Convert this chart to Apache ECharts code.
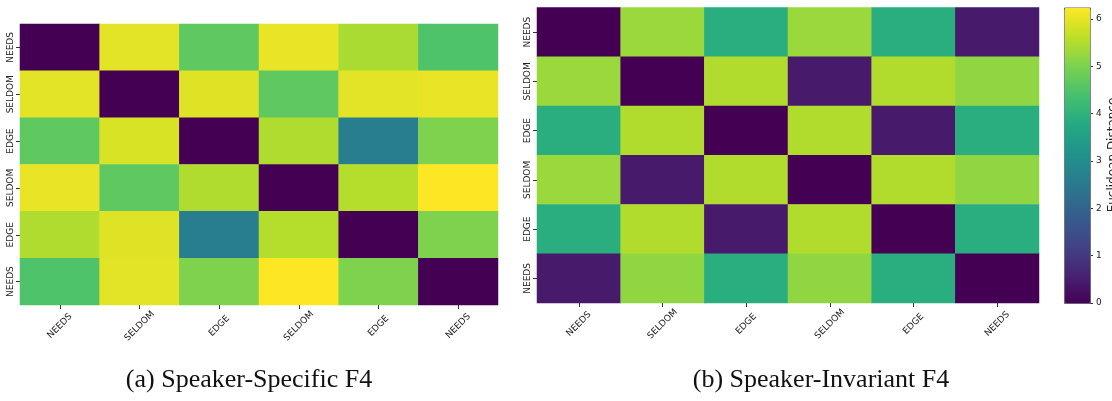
<!DOCTYPE html>
<html>
<head>
<meta charset="utf-8">
<script src="https://cdn.jsdelivr.net/npm/echarts@6/dist/echarts.min.js"></script>
<style>
  html, body { margin: 0; padding: 0; background: #fff; }
  #chart { width: 1112px; height: 401px; }
</style>
</head>
<body>
<div id="chart"></div>
<script>
// Word labels along both axes of each distance matrix
const words = ['NEEDS', 'SELDOM', 'EDGE', 'SELDOM', 'EDGE', 'NEEDS'];

// Pairwise Euclidean distances, speaker-specific F4 (rows top to bottom)
const specificRows = [
  [0.00, 6.00, 4.70, 6.05, 5.45, 4.50],
  [6.00, 0.00, 5.95, 4.70, 6.00, 6.05],
  [4.70, 5.90, 0.00, 5.50, 2.65, 5.05],
  [6.05, 4.70, 5.50, 0.00, 5.55, 6.25],
  [5.50, 5.95, 2.65, 5.55, 0.00, 5.05],
  [4.50, 6.00, 5.05, 6.25, 5.05, 0.00]
];

// Pairwise Euclidean distances, speaker-invariant F4
const invariantRows = [
  [0.00, 5.30, 3.90, 5.30, 3.90, 0.45],
  [5.30, 0.00, 5.50, 0.45, 5.50, 5.20],
  [3.90, 5.50, 0.00, 5.50, 0.45, 3.90],
  [5.30, 0.45, 5.50, 0.00, 5.50, 5.20],
  [3.90, 5.50, 0.45, 5.50, 0.00, 3.90],
  [0.45, 5.20, 3.90, 5.20, 3.90, 0.00]
];

// Colour bar range and its tick values
const colorbarMax = 6.24;
const colorbarTicks = [0, 1, 2, 3, 4, 5, 6];
const colorbarTitle = 'Euclidean Distance';

const captions = ['(a) Speaker-Specific F4', '(b) Speaker-Invariant F4'];

const viridis = ['#440154', '#482475', '#414487', '#355f8d', '#2a788e', '#21918c',
                 '#22a884', '#44bf70', '#7ad151', '#bddf26', '#fde725'];

function toCells(rows) {
  const out = [];
  rows.forEach((row, r) => row.forEach((v, c) => out.push([c, r, v])));
  return out;
}

const labelFont = { fontFamily: 'DejaVu Sans', fontSize: 9, color: '#222' };
const tickStyle = { show: true, alignWithLabel: true, length: 4, lineStyle: { color: '#333', width: 1 } };

function catX(gridIndex) {
  return {
    type: 'category', gridIndex, data: words,
    axisLine: { show: false },
    axisTick: tickStyle,
    axisLabel: Object.assign({ interval: 0, rotate: 45, margin: 21,
      align: 'center', verticalAlign: 'middle' }, labelFont),
    splitArea: { show: false }
  };
}
function catY(gridIndex) {
  return {
    type: 'category', gridIndex, data: words, inverse: true,
    axisLine: { show: false },
    axisTick: tickStyle,
    axisLabel: Object.assign({ interval: 0, rotate: 90, margin: 5 }, labelFont)
  };
}

const captionStyle = { fontFamily: 'Liberation Serif', fontSize: 26, fontWeight: 'normal', color: '#111' };

const chart = echarts.init(document.getElementById('chart'), null, { renderer: 'canvas' });

chart.setOption({
  backgroundColor: '#fff',
  animation: false,
  title: [
    { text: captions[0], left: 249, top: 367, textAlign: 'center', padding: 0, textStyle: captionStyle },
    { text: captions[1], left: 821, top: 367, textAlign: 'center', padding: 0, textStyle: captionStyle }
  ],
  grid: [
    { left: 20, top: 24, width: 478, height: 281 },
    { left: 537, top: 7.5, width: 502, height: 295.5 },
    // strip just right of the colour bar that carries its tick axis
    { left: 1090, top: 7.5, width: 20, height: 295.5 }
  ],
  xAxis: [
    catX(0),
    catX(1),
    { type: 'value', gridIndex: 2, show: false, min: 0, max: 1 }
  ],
  yAxis: [
    catY(0),
    catY(1),
    {
      type: 'value', gridIndex: 2, position: 'left', min: 0, max: colorbarMax,
      axisLine: { show: false, onZero: false },
      axisTick: { show: true, inside: true, length: 3, customValues: colorbarTicks,
                  lineStyle: { color: '#333' } },
      splitLine: { show: false },
      axisLabel: Object.assign({ show: true, inside: true, margin: 6, customValues: colorbarTicks }, labelFont)
    }
  ],
  visualMap: [
    {
      type: 'continuous', seriesIndex: 0, show: false,
      min: 0, max: 6.25, inRange: { color: viridis }
    },
    {
      type: 'continuous', seriesIndex: 1, show: true, calculable: false, hoverLink: false,
      orient: 'vertical', left: 1064, top: 7.5, itemWidth: 26, itemHeight: 295.5,
      padding: 0, text: null, showLabel: false,
      borderColor: '#666', borderWidth: 1,
      min: 0, max: colorbarMax, inRange: { color: viridis }
    }
  ],
  graphic: [
    { type: 'text', x: 1113, y: 155, rotation: Math.PI / 2,
      style: { text: colorbarTitle, fontFamily: 'DejaVu Sans', fontSize: 12, fill: '#222',
               align: 'center', verticalAlign: 'middle' } }
  ],
  series: [
    { type: 'heatmap', xAxisIndex: 0, yAxisIndex: 0, data: toCells(specificRows),
      itemStyle: { borderWidth: 0 }, emphasis: { disabled: true } },
    { type: 'heatmap', xAxisIndex: 1, yAxisIndex: 1, data: toCells(invariantRows),
      itemStyle: { borderWidth: 0 }, emphasis: { disabled: true } },
    // empty carrier so the colour-bar axis is laid out with its ticks
    { type: 'scatter', xAxisIndex: 2, yAxisIndex: 2, data: [], silent: true }
  ]
});
</script>
</body>
</html>
